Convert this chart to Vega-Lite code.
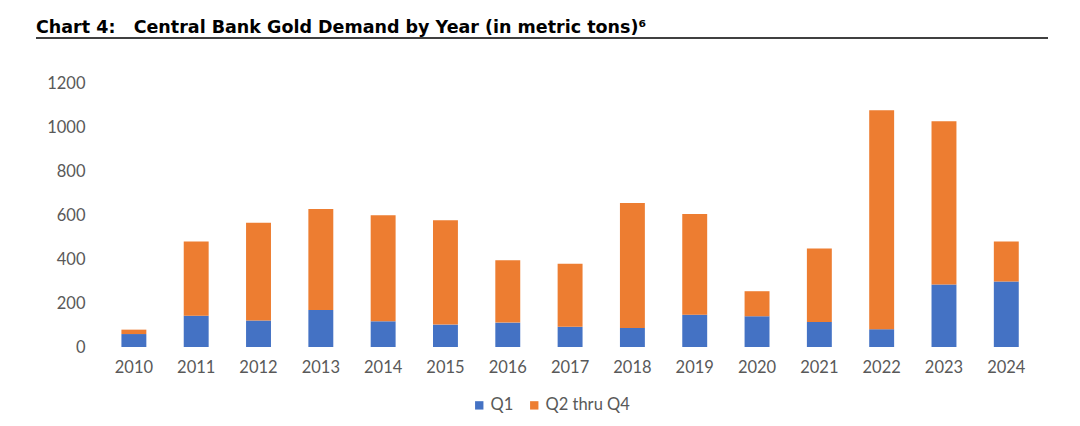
{
  "$schema": "https://vega.github.io/schema/vega-lite/v6.json",
  "width": 1012,
  "height": 309,
  "autosize": {"type": "pad"},
  "padding": {"left": 35, "top": 18, "right": 0, "bottom": 0},
  "background": "white",
  "title": {
    "text": "Chart 4:\u00a0\u00a0\u00a0Central Bank Gold Demand by Year (in metric tons)⁶",
    "anchor": "start",
    "frame": "group",
    "font": "DejaVu Sans",
    "fontSize": 17.5,
    "fontWeight": "bold",
    "color": "#000000",
    "offset": 5,
    "dy": 4
  },
  "data": {
    "values": [
      {"year": "2010", "series": "Q1", "value": 59},
      {"year": "2010", "series": "Q2 thru Q4", "value": 20},
      {"year": "2011", "series": "Q1", "value": 142},
      {"year": "2011", "series": "Q2 thru Q4", "value": 338},
      {"year": "2012", "series": "Q1", "value": 121},
      {"year": "2012", "series": "Q2 thru Q4", "value": 445},
      {"year": "2013", "series": "Q1", "value": 168},
      {"year": "2013", "series": "Q2 thru Q4", "value": 460},
      {"year": "2014", "series": "Q1", "value": 117},
      {"year": "2014", "series": "Q2 thru Q4", "value": 483},
      {"year": "2015", "series": "Q1", "value": 102},
      {"year": "2015", "series": "Q2 thru Q4", "value": 475},
      {"year": "2016", "series": "Q1", "value": 111},
      {"year": "2016", "series": "Q2 thru Q4", "value": 284},
      {"year": "2017", "series": "Q1", "value": 92},
      {"year": "2017", "series": "Q2 thru Q4", "value": 287},
      {"year": "2018", "series": "Q1", "value": 87},
      {"year": "2018", "series": "Q2 thru Q4", "value": 569},
      {"year": "2019", "series": "Q1", "value": 147},
      {"year": "2019", "series": "Q2 thru Q4", "value": 459},
      {"year": "2020", "series": "Q1", "value": 140},
      {"year": "2020", "series": "Q2 thru Q4", "value": 114},
      {"year": "2021", "series": "Q1", "value": 114},
      {"year": "2021", "series": "Q2 thru Q4", "value": 334},
      {"year": "2022", "series": "Q1", "value": 81},
      {"year": "2022", "series": "Q2 thru Q4", "value": 997},
      {"year": "2023", "series": "Q1", "value": 285},
      {"year": "2023", "series": "Q2 thru Q4", "value": 743},
      {"year": "2024", "series": "Q1", "value": 298},
      {"year": "2024", "series": "Q2 thru Q4", "value": 182}
    ]
  },
  "config": {
    "view": {"stroke": null},
    "axis": {"grid": false, "domain": false, "ticks": false, "labelFont": "Lato", "labelFontSize": 16.5, "labelColor": "#595959", "title": null},
    "legend": {"labelFont": "Lato", "labelFontSize": 16.5, "labelColor": "#595959"}
  },
  "layer": [
    {
      "mark": {"type": "bar"},
      "encoding": {
        "x": {
          "field": "year",
          "type": "nominal",
          "scale": {"paddingInner": 0.6, "paddingOuter": 0.92, "align": 0.745},
          "axis": {"labelAngle": 0, "labelPadding": 12}
        },
        "y": {
          "field": "value",
          "type": "quantitative",
          "stack": "zero",
          "scale": {"domain": [0, 1407], "nice": false},
          "axis": {"values": [0, 200, 400, 600, 800, 1000, 1200], "format": "d", "offset": -51, "labelPadding": 2}
        },
        "color": {
          "field": "series",
          "type": "nominal",
          "scale": {"domain": ["Q1", "Q2 thru Q4"], "range": ["#4472C4", "#ED7D31"]},
          "legend": {
            "orient": "none",
            "legendX": 435,
            "legendY": 359,
            "direction": "horizontal",
            "title": null,
            "symbolType": "square",
            "symbolSize": 70,
            "labelOffset": 3,
            "columnPadding": 12
          }
        },
        "order": {"field": "series", "type": "ordinal", "sort": "ascending"}
      }
    },
    {
      "mark": {"type": "rule", "color": "#404040", "strokeWidth": 1.5},
      "encoding": {"y": {"datum": 1407, "type": "quantitative"}}
    }
  ]
}
